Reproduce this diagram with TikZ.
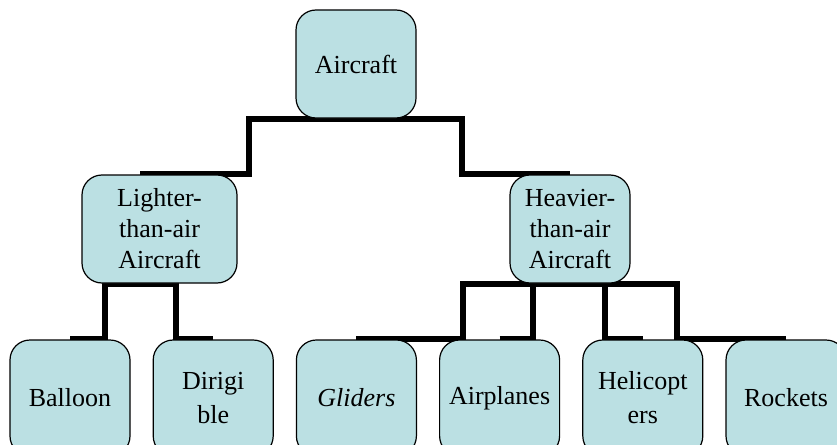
\documentclass[tikz,border=0pt]{standalone}
\usepackage{fontspec}
\setmainfont{Liberation Serif}
\usetikzlibrary{positioning, backgrounds, calc}
\definecolor{boxfill}{RGB}{187, 224, 227}

\begin{document}
\begin{tikzpicture}[
    x=1pt, y=1pt,
    node distance=22pt,
    box/.style={draw, line width=1.2pt, fill=boxfill, rounded corners=20pt, minimum width=120pt, minimum height=108pt, inner sep=3pt, font=\fontsize{26}{31}\selectfont, align=center},
    leaf/.style={box, minimum height=116pt, font=\fontsize{26}{34}\selectfont},
    link/.style={line width=6pt, black}
]
    \useasboundingbox (0,0) rectangle (837,-444);

    % Nodes - top row
    \node[box] (aircraft) at (356,-64) {Aircraft};

    % Nodes - middle row
    \node[box, minimum width=155pt] (lighter) at (159.5,-229) {Lighter-\\than-air\\Aircraft};
    \node[box] (heavier) at (570,-229) {Heavier-\\than-air\\Aircraft};

    % Nodes - bottom row
    \node[leaf] (balloon) at (70,-398) {Balloon};
    \node[leaf, right=of balloon] (dirigible) {Dirigi\\ble};
    \node[leaf, right=of dirigible] (gliders) {\itshape Gliders};
    \node[leaf, right=of gliders] (airplanes) {Airplanes};
    \node[leaf, right=of airplanes] (helicopters) {Helicopt\\ers};
    \node[leaf, right=of helicopters] (rockets) {Rockets};

    % Connectors
    \begin{scope}[on background layer]
        \draw[link] ($(lighter.north)+(-19.5,0)$) -| ($(aircraft.south)+(-107,0)$) -- (aircraft.south);
        \draw[link] (heavier.north) -| ($(aircraft.south)+(106,0)$) -- (aircraft.south);
        \draw[link] (balloon.north) -| ($(lighter.south)+(-54.5,0)$) -- (lighter.south);
        \draw[link] (dirigible.north) -| ($(lighter.south)+(16.5,0)$) -- (lighter.south);
        \draw[link] (gliders.north) -| ($(heavier.south)+(-107,0)$) -- (heavier.south);
        \draw[link] (airplanes.north) -| ($(heavier.south)+(-37,0)$) -- (heavier.south);
        \draw[link] (helicopters.north) -| ($(heavier.south)+(35,0)$) -- (heavier.south);
        \draw[link] (rockets.north) -| ($(heavier.south)+(107,0)$) -- (heavier.south);
    \end{scope}
\end{tikzpicture}
\end{document}
